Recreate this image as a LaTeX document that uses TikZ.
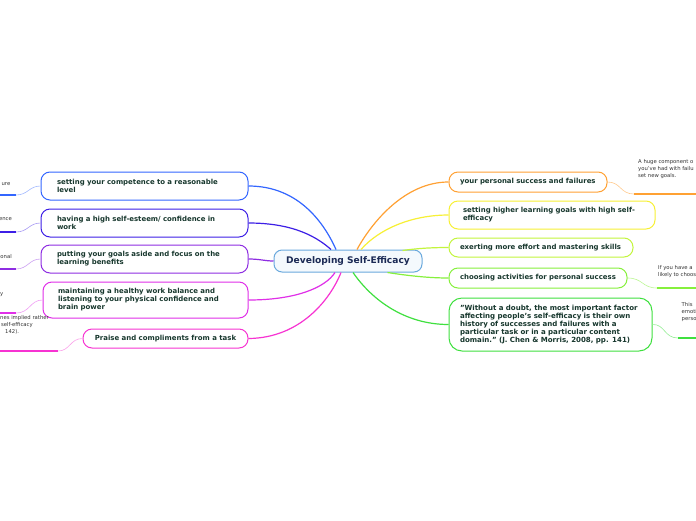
\documentclass[tikz,border=0pt]{standalone}
\usepackage{fontspec}
\setmainfont{DejaVu Sans}
\usetikzlibrary{calc}
\definecolor{txt}{HTML}{17372D}
\definecolor{ctrtxt}{HTML}{1B2A55}
\definecolor{ctrborder}{HTML}{6AA9DD}
\definecolor{ctrfill}{HTML}{F4F9FD}
\definecolor{cBlue}{HTML}{3366FF}
\definecolor{cIndigo}{HTML}{3D1FE6}
\definecolor{cViolet}{HTML}{8E2DE2}
\definecolor{cMagenta}{HTML}{E02FE8}
\definecolor{cPink}{HTML}{F733D2}
\definecolor{cOrange}{HTML}{FFA133}
\definecolor{cYellow}{HTML}{F7F035}
\definecolor{cLime}{HTML}{C3F53C}
\definecolor{cGreen}{HTML}{86F03C}
\definecolor{cGreenB}{HTML}{3FE03F}
\definecolor{dettxt}{HTML}{333333}
\hyphenpenalty=10000
\begin{document}
\begin{tikzpicture}[x=1pt,y=-1pt,
  topic/.style={draw, line width=1pt, rounded corners=9pt, fill=white, text=txt,
    font=\bfseries\fontsize{6.95}{8}\selectfont, align=left, inner sep=0pt},
  central/.style={draw=ctrborder, line width=1pt, rounded corners=8pt, fill=ctrfill, text=ctrtxt,
    font=\bfseries\fontsize{9.1}{10}\selectfont, inner sep=0pt, minimum width=148pt, minimum height=22pt},
  conn/.style={line width=1.2pt},
  thin/.style={line width=0.6pt},
  under/.style={line width=1.8pt},
  detail/.style={text=dettxt, font=\fontsize{5.3}{7}\selectfont, align=left, inner sep=0pt}
]
\clip (0,0) rectangle (696,520);
\fill[white] (0,0) rectangle (696,520);

% central
\node[central] (ctr) at (348,261) {Developing Self-Efficacy};

% left topics
\node[topic, draw=cBlue, minimum width=207pt, minimum height=28pt, text width=175pt] (l1) at (144.5,186)
  {setting your competence to a reasonable\\level};
\node[topic, draw=cIndigo, minimum width=207pt, minimum height=28pt, text width=175pt] (l2) at (144.5,223)
  {having a high self-esteem/ confidence in\\work};
\node[topic, draw=cViolet, minimum width=207pt, minimum height=28pt, text width=175pt] (l3) at (144.5,259)
  {putting your goals aside and focus on the\\learning benefits};
\node[topic, draw=cMagenta, minimum width=205pt, minimum height=36pt, text width=175pt] (l4) at (145.5,300)
  {maintaining a healthy work balance and\\listening to your physical confidence and\\brain power};
\node[topic, draw=cPink, minimum width=165pt, minimum height=19pt, align=center] (l5) at (165.5,338.5)
  {Praise and compliments from a task};

% right topics
\node[topic, draw=cOrange, minimum width=158pt, minimum height=20pt, text width=136pt] (r1) at (528,182)
  {your personal success and failures};
\node[topic, draw=cYellow, minimum width=206pt, minimum height=28pt, text width=178pt] (r2) at (552,215)
  {setting higher learning goals with high self-\\efficacy};
\node[topic, draw=cLime, minimum width=184pt, minimum height=19pt, text width=162pt] (r3) at (541,247.5)
  {exerting more effort and mastering skills};
\node[topic, draw=cGreen, minimum width=178pt, minimum height=20pt, text width=156pt] (r4) at (538,278)
  {choosing activities for personal success};
\node[topic, draw=cGreenB, minimum width=203pt, minimum height=53pt, text width=181pt, rounded corners=13pt,
  font=\bfseries\fontsize{7.05}{8.2}\selectfont] (r5) at (550.5,324.5)
  {"Without a doubt, the most important factor\\affecting people's self-efficacy is their own\\history of successes and failures with a\\particular task or in a particular content\\domain." (J. Chen \& Morris, 2008, pp. 141)};

% connection points on the central topic
\coordinate (cl1) at ($(ctr.north)+(-12,0)$);
\coordinate (cl2) at ($(ctr.north)+(-17,0)$);
\coordinate (cl4) at ($(ctr.south)+(-13,0)$);
\coordinate (cl5) at ($(ctr.south)+(-7,0)$);
\coordinate (cr1) at ($(ctr.north)+(9,0)$);
\coordinate (cr2) at ($(ctr.north)+(13,0)$);
\coordinate (cr3) at ($(ctr.north east)+(-20,1)$);
\coordinate (cr4) at ($(ctr.south east)+(-35,0)$);
\coordinate (cr5) at ($(ctr.south)+(5,0)$);

% main connectors
\draw[conn, cBlue] (l1.east) .. controls (300,186) and (325,225) .. (cl1);
\draw[conn, cIndigo] (l2.east) .. controls (295,223) and (318,238) .. (cl2);
\draw[conn, cViolet] (l3.east) .. controls (260,259) and (265,261) .. (ctr.west);
\draw[conn, cMagenta] (l4.east) .. controls (295,300) and (325,288) .. (cl4);
\draw[conn, cPink] (l5.east) .. controls (300,338) and (330,300) .. (cl5);
\draw[conn, cOrange] (cr1) .. controls (372,222) and (405,182) .. (r1.west);
\draw[conn, cYellow] (cr2) .. controls (378,230) and (410,215) .. (r2.west);
\draw[conn, cLime] (cr3) .. controls (420,248) and (435,247.5) .. (r3.west);
\draw[conn, cGreen] (cr4) .. controls (410,276) and (430,278) .. (r4.west);
\draw[conn, cGreenB] (cr5) .. controls (372,300) and (405,324.5) .. (r5.west);

% left details
\coordinate (u1a) at (16,195); \coordinate (u1b) at (0,195);
\node[detail, anchor=base east] (d1) at (10.5,185) {ure};
\draw[thin, cBlue!45] (l1.west) .. controls (29,186) and (28,195) .. (u1a);
\draw[under, cBlue] (u1a) -- (u1b);

\coordinate (u2a) at (16,232); \coordinate (u2b) at (0,232);
\node[detail, anchor=base east] (d2) at (12,220) {ence};
\draw[thin, cIndigo!45] (l2.west) .. controls (29,223) and (28,232) .. (u2a);
\draw[under, cIndigo] (u2a) -- (u2b);

\coordinate (u3a) at (16,269); \coordinate (u3b) at (0,269);
\node[detail, anchor=base east] (d3) at (12,258) {onal};
\draw[thin, cViolet!45] (l3.west) .. controls (29,259) and (28,269) .. (u3a);
\draw[under, cViolet] (u3a) -- (u3b);

\coordinate (u4a) at (16,313); \coordinate (u4b) at (0,313);
\node[detail, anchor=base east] (d4) at (3.5,295) {y};
\draw[thin, cMagenta!45] (l4.west) .. controls (30,300) and (30,313) .. (u4a);
\draw[under, cMagenta] (u4a) -- (u4b);

\coordinate (u5a) at (58,351); \coordinate (u5b) at (0,351);
\node[detail, anchor=base west] (d5) at (0,333) {nes implied rather\\\hspace*{1pt}self-efficacy\\\hspace*{5pt}142).};
\draw[thin, cPink!45] (l5.west) .. controls (70,338.5) and (70,351) .. (u5a);
\draw[under, cPink] (u5a) -- (u5b);

% right details
\coordinate (v1a) at (634,194); \coordinate (v1b) at (696,194);
\node[detail, anchor=base west] (e1) at (638,177) {A huge component o\\you've had with failu\\set new goals.};
\draw[thin, cOrange!55] (r1.east) .. controls (621,182) and (620,194) .. (v1a);
\draw[under, cOrange] (v1a) -- (v1b);

\coordinate (v2a) at (657,288); \coordinate (v2b) at (696,288);
\node[detail, anchor=base west] (e2) at (658,276) {If you have a\\likely to choos};
\draw[thin, cGreen!55] (r4.east) .. controls (643,278) and (642,288) .. (v2a);
\draw[under, cGreen] (v2a) -- (v2b);

\coordinate (v3a) at (678,338); \coordinate (v3b) at (696,338);
\node[detail, anchor=base west] (e3) at (681.5,320) {This\\emoti\\perso};
\draw[thin, cGreenB!55] (r5.east) .. controls (665,324) and (664,338) .. (v3a);
\draw[under, cGreenB] (v3a) -- (v3b);
\end{tikzpicture}
\end{document}
